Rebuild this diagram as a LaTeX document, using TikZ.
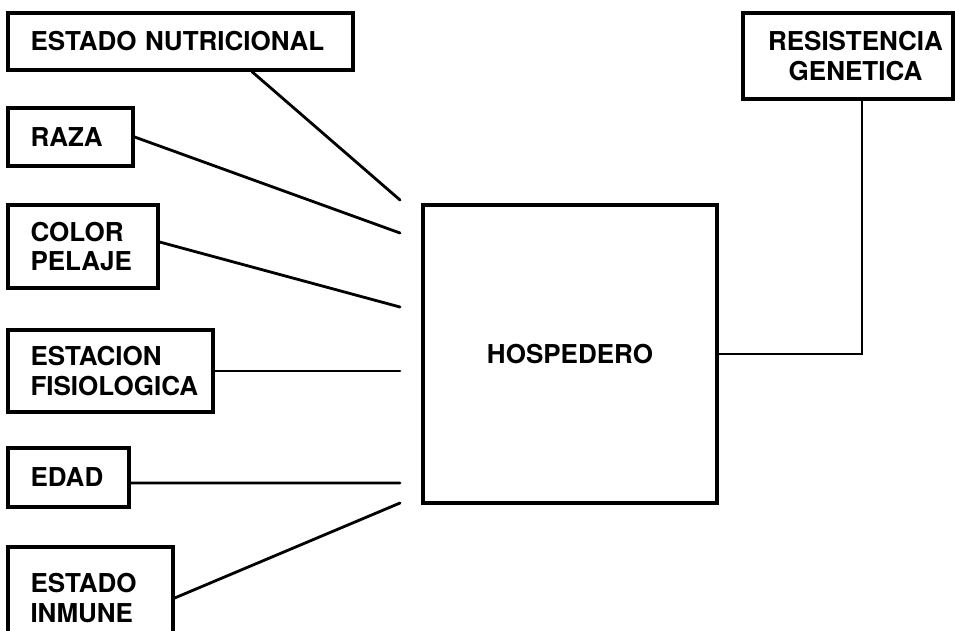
\documentclass[tikz,border=0pt]{standalone}
\usepackage{fontspec}
\setmainfont{TeX Gyre Heros}
\usepackage{tikz}

\tikzset{
  factor/.style={draw,line width=1.9pt,align=left,inner xsep=0.45cm,inner ysep=0pt},
  link/.style={line width=1.6pt,line cap=round}
}

\begin{document}
\begin{tikzpicture}[x=0.02cm,y=-0.02cm,font=\bfseries\fontsize{14.8}{17}\selectfont]
\useasboundingbox (0,0) rectangle (955,630);
% factores del hospedero
\node[factor,text width=6.0cm,minimum height=1.14cm] (nutri) at (180.5,41.5) {ESTADO NUTRICIONAL};
\node[factor,text width=1.6cm,minimum height=1.16cm] (raza) at (70.5,137) {RAZA};
\node[factor,text width=2.1cm,minimum height=1.66cm] (color) at (83,246.5) {COLOR\\PELAJE};
\node[factor,text width=3.2cm,minimum height=1.64cm] (estacion) at (110.5,371) {ESTACION\\FISIOLOGICA};
\node[factor,text width=1.52cm,minimum height=1.18cm] (edad) at (68.5,477.5) {EDAD};
\node[factor,text width=2.4cm,minimum height=2.04cm] (inmune) at (90.5,598) {ESTADO\\INMUNE};
\node[factor,align=center,inner xsep=0pt,minimum width=5.88cm,minimum height=5.96cm] (hosp) at (570,354) {HOSPEDERO};
\node[factor,align=center,inner xsep=0pt,minimum width=4.2cm,minimum height=1.72cm] (resist) at (848,56) {\hspace*{0.3cm}RESISTENCIA\\\hspace*{0.3cm}GENETICA};
% extremos libres
\coordinate (t1) at (400,200);
\coordinate (t2) at (400,233);
\coordinate (t3) at (400,307);
\coordinate (t4) at (400,371);
\coordinate (t5) at (400,483);
\coordinate (t6) at (400,503);
\draw[link] ([xshift=1.43cm]nutri.south) -- (t1);
\draw[link] (raza.east) -- (t2);
\draw[link] ([yshift=0.09cm]color.east) -- (t3);
\draw[link] (estacion.east) -- (t4);
\draw[link] ([yshift=-0.11cm]edad.east) -- (t5);
\draw[link] (inmune.east) -- (t6);
\draw[link,line cap=butt] (hosp.east) -| ([xshift=0.28cm]resist.south);
\end{tikzpicture}
\end{document}
